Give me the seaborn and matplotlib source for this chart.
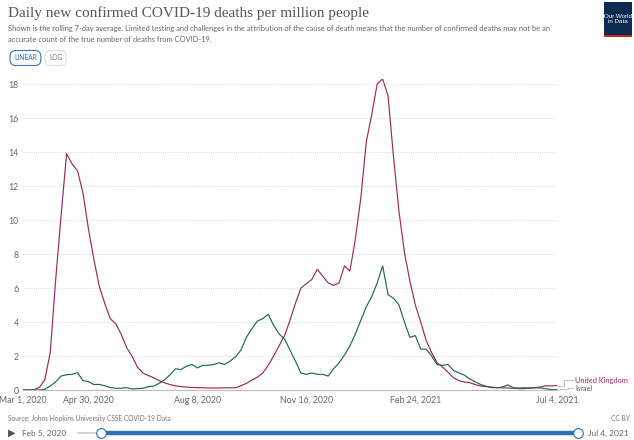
import pandas as pd
import matplotlib.pyplot as plt
import seaborn as sns
import numpy as np
from matplotlib.lines import Line2D
from matplotlib.patches import Rectangle

# days since Mar 1, 2020, every 5 days (0 .. 490 = Jul 4, 2021)
days = list(range(0, 491, 5))

uk = [0.0, 0.0, 0.02, 0.15, 0.6, 2.2, 6.5, 10.3, 13.9, 13.3,
      12.9, 11.6, 9.5, 7.7, 6.1, 5.1, 4.2, 3.9, 3.3, 2.5,
      2.0, 1.35, 1.0, 0.85, 0.72, 0.55, 0.42, 0.32, 0.24, 0.2,
      0.17, 0.15, 0.14, 0.13, 0.12, 0.12, 0.12, 0.13, 0.13, 0.13,
      0.25, 0.39, 0.58, 0.75, 1.0, 1.45, 2.0, 2.6, 3.2, 4.1,
      5.1, 6.0, 6.25, 6.5, 7.1, 6.7, 6.3, 6.15, 6.3, 7.3,
      7.0, 8.9, 11.3, 14.6, 16.2, 18.0, 18.3, 17.3, 13.7, 10.5,
      8.1, 6.4, 5.0, 4.0, 2.9, 2.2, 1.6, 1.35, 1.05, 0.72,
      0.55, 0.47, 0.43, 0.32, 0.23, 0.2, 0.17, 0.14, 0.13, 0.12,
      0.1, 0.08, 0.08, 0.1, 0.14, 0.18, 0.25, 0.24, 0.26]

israel = [0.0, 0.0, 0.0, 0.0, 0.04, 0.23, 0.48, 0.82, 0.9, 0.92,
          1.02, 0.55, 0.5, 0.32, 0.33, 0.25, 0.15, 0.1, 0.1, 0.14,
          0.06, 0.08, 0.1, 0.2, 0.23, 0.4, 0.6, 0.9, 1.25, 1.2,
          1.4, 1.5, 1.3, 1.45, 1.45, 1.5, 1.6, 1.5, 1.7, 1.95,
          2.35, 3.1, 3.6, 4.05, 4.2, 4.45, 3.8, 3.3, 3.0, 2.35,
          1.7, 1.0, 0.92, 1.0, 0.92, 0.92, 0.82, 1.25, 1.6, 2.05,
          2.6, 3.3, 4.1, 4.9, 5.5, 6.3, 7.3, 5.6, 5.4, 5.0,
          4.0, 3.1, 3.2, 2.4, 2.4, 2.0, 1.5, 1.45, 1.5, 1.15,
          1.0, 0.88, 0.65, 0.48, 0.32, 0.22, 0.14, 0.13, 0.18, 0.3,
          0.13, 0.12, 0.13, 0.12, 0.13, 0.12, 0.07, 0.03, 0.02]

tick_dates = ['2020-03-01', '2020-04-30', '2020-08-08', '2020-11-16', '2021-02-24', '2021-07-04']
tick_labels = ['Mar 1, 2020', 'Apr 30, 2020', 'Aug 8, 2020', 'Nov 16, 2020', 'Feb 24, 2021', 'Jul 4, 2021']
y_ticks = [0, 2, 4, 6, 8, 10, 12, 14, 16, 18]

start = pd.Timestamp('2020-03-01')
dates = start + pd.to_timedelta(days, unit='D')
df = pd.concat([
    pd.DataFrame({'date': dates, 'deaths': uk, 'country': 'United Kingdom'}),
    pd.DataFrame({'date': dates, 'deaths': israel, 'country': 'Israel'}),
])

uk_col = '#9c2862'
il_col = '#1d6b47'
grey = '#666666'

sns.set_style('white')
plt.rcParams['font.family'] = ['Lato', 'DejaVu Sans']

fig = plt.figure(figsize=(6.34, 4.4), dpi=100)
ax = fig.add_axes([23/634, 1-390/440, (557-23)/634, (390-78.9)/440])

sns.lineplot(data=df, x='date', y='deaths', hue='country',
             palette={'United Kingdom': uk_col, 'Israel': il_col},
             linewidth=0.85, legend=False, ax=ax)

ax.set_xlim(start, pd.Timestamp('2021-07-04'))
ax.set_ylim(0, 18.3)
ax.set_xticks(pd.to_datetime(tick_dates))
ax.set_xticklabels(tick_labels, fontsize=6.3, color=grey)
ax.set_yticks(y_ticks)
ax.set_yticklabels([str(v) for v in y_ticks], fontsize=6.3, color=grey)
ax.tick_params(length=0, pad=3)
ax.tick_params(axis='x', pad=4)
ax.set_xlabel('')
ax.set_ylabel('')
for s in ['top', 'right', 'left']:
    ax.spines[s].set_visible(False)
ax.spines['bottom'].set_color('#bbbbbb')
ax.spines['bottom'].set_linewidth(0.8)
ax.yaxis.grid(True, color='#cccccc', linestyle=(0, (1, 1.5)), linewidth=0.6)
ax.set_axisbelow(True)

# title & subtitle
fig.text(8/634, 1-13/440, 'Daily new confirmed COVID-19 deaths per million people',
         fontsize=11, color='#555555', family='Liberation Serif', va='center')
fig.text(8/634, 1-29/440,
         'Shown is the rolling 7-day average. Limited testing and challenges in the attribution of the cause of death '
         'means that the number of confirmed deaths may not be an',
         fontsize=5.45, color=grey, va='center')
fig.text(8/634, 1-39/440, 'accurate count of the true number of deaths from COVID-19.',
         fontsize=5.45, color=grey, va='center')

# linear / log buttons
fig.text(14/634, 1-58/440, 'LINEAR', fontsize=4.8, color='#3c6ea8', va='center',
         bbox=dict(boxstyle='round,pad=0.6,rounding_size=0.9', fc='white', ec='#3c75b8', lw=0.8))
fig.text(49/634, 1-58/440, 'LOG', fontsize=4.8, color='#777777', va='center',
         bbox=dict(boxstyle='round,pad=0.6,rounding_size=0.9', fc='white', ec='#dddddd', lw=0.8))

# logo
fig.add_artist(Rectangle((604/634, 1-37/440), 28/634, 35/440, transform=fig.transFigure,
                         fc='#0b2b52', ec='none'))
fig.add_artist(Rectangle((604/634, 1-37/440), 28/634, 2/440, transform=fig.transFigure,
                         fc='#ce261e', ec='none'))
fig.text(618/634, 1-19/440, 'Our World\nin Data', fontsize=4.5, color='white',
         ha='center', va='center', linespacing=1.0, family='Liberation Sans')

# end labels with connectors
fig.add_artist(Line2D([557/634, 564/634, 564/634, 573/634],
                      [1-386/440, 1-386/440, 1-380/440, 1-380/440],
                      transform=fig.transFigure, color='#aaaaaa', lw=0.5))
fig.add_artist(Line2D([557/634, 568/634, 568/634, 573/634],
                      [1-389/440, 1-389/440, 1-388/440, 1-388/440],
                      transform=fig.transFigure, color='#aaaaaa', lw=0.5))
fig.text(575/634, 1-380/440, 'United Kingdom', fontsize=5.3, color=uk_col, va='center')
fig.text(575/634, 1-388/440, 'Israel', fontsize=5.3, color='#555555', va='center')

# source
fig.text(8/634, 1-418/440, 'Source: Johns Hopkins University CSSE COVID-19 Data',
         fontsize=4.8, color='#777777', va='center')
fig.text(630/634, 1-418/440, 'CC BY', fontsize=4.8, color='#777777', va='center', ha='right')

# timeline slider
fig.text(8/634, 1-433/440, '\u25b6', fontsize=7, color='#555555', va='center', family='DejaVu Sans')
fig.text(22/634, 1-433/440, 'Feb 5, 2020', fontsize=6, color=grey, va='center')
fig.add_artist(Line2D([78/634, 578/634], [1-433/440, 1-433/440], transform=fig.transFigure,
                      color='#cccccc', lw=1.2))
fig.add_artist(Line2D([101/634, 578/634], [1-433/440, 1-433/440], transform=fig.transFigure,
                      color='#2f6fb5', lw=3.2))
for hx in [101, 578]:
    fig.add_artist(Line2D([hx/634], [1-433/440], transform=fig.transFigure, marker='o',
                          markersize=7, markerfacecolor='white', markeredgecolor='#2f6fb5',
                          markeredgewidth=0.8, linestyle='none'))
fig.text(588/634, 1-433/440, 'Jul 4, 2021', fontsize=6, color=grey, va='center')

fig.savefig('out.png', dpi=100)
